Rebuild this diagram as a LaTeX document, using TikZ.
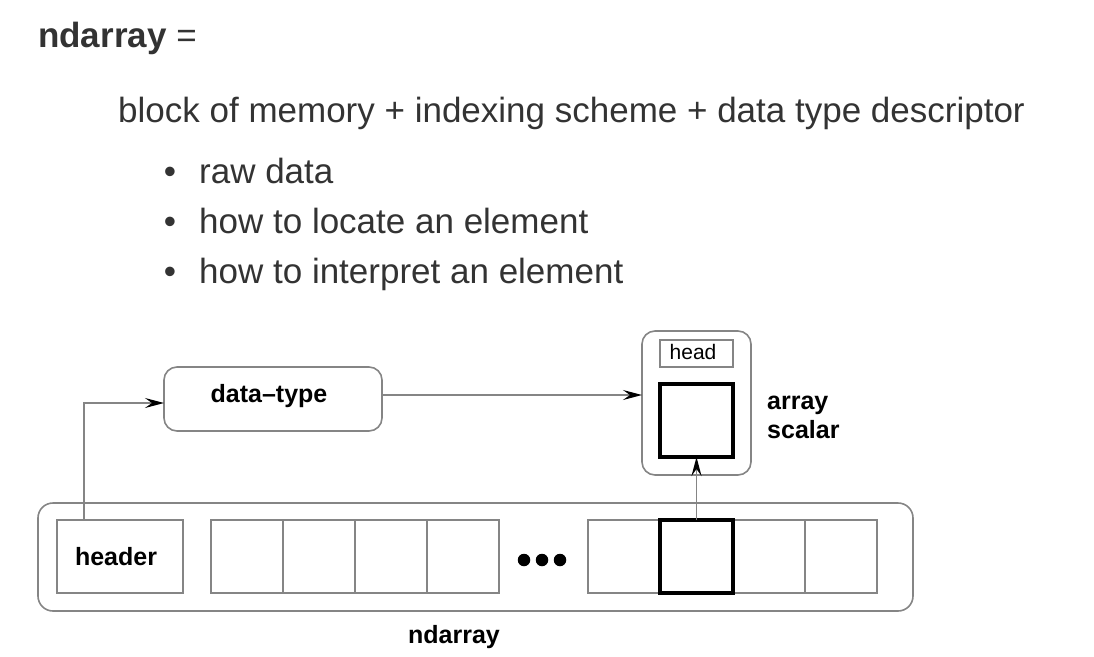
\documentclass[tikz,border=0pt]{standalone}
\usepackage{fontspec}
\setmainfont{Liberation Sans}
\usetikzlibrary{arrows.meta}
\definecolor{txt}{HTML}{333333}
\definecolor{ln}{HTML}{858585}
\begin{document}
\begin{tikzpicture}[x=1pt,y=-1pt,
  box/.style={draw=ln, line width=1.6pt, inner sep=0pt, outer sep=0pt},
  rbox/.style={box, rounded corners=13pt},
  cell/.style={box, minimum width=72pt, minimum height=73pt},
  thickbox/.style={draw=black, line width=4.5pt, inner sep=0pt, outer sep=0pt, minimum width=73pt, minimum height=73pt},
  lbl/.style={inner sep=0pt, font=\bfseries\fontsize{25}{29}\selectfont},
  toptext/.style={inner sep=0pt, text=txt, font=\fontsize{35}{42}\selectfont},
  dot/.style={circle, fill=black, minimum size=12.5pt, inner sep=0pt},
  conn/.style={draw=ln, line width=1.6pt, -{Stealth[length=19pt,width=10pt,inset=7pt,black]}}]
\useasboundingbox (0,0) rectangle (1094,656);
% top text
\node[toptext, anchor=base west] (title) at (38,47) {\textbf{ndarray} =};
\node[toptext, anchor=base west] (desc) at (118,122) {block of memory + indexing scheme + data type descriptor};
\node[toptext, anchor=base] (b1) at (170,183) {•};
\node[toptext, anchor=base west] (t1) at (199,183) {raw data};
\node[toptext, anchor=base] (b2) at (170,233) {•};
\node[toptext, anchor=base west] (t2) at (199,233) {how to locate an element};
\node[toptext, anchor=base] (b3) at (170,283) {•};
\node[toptext, anchor=base west] (t3) at (199,283) {how to interpret an element};
% ndarray block
\node[rbox, rounded corners=15pt, minimum width=875pt, minimum height=108pt] (outer) at (475.5,557) {};
\node[cell, minimum width=126pt] (header) at (120,556.5) {};
\node[lbl] (headerlbl) at (116,557) {header};
\node[cell] (c1) at (247,556.5) {};
\node[cell] (c2) at (319,556.5) {};
\node[cell] (c3) at (391,556.5) {};
\node[cell] (c4) at (463,556.5) {};
\node[dot] (d1) at (524,560) {};
\node[dot] (d2) at (542,560) {};
\node[dot] (d3) at (560,560) {};
\node[cell] (c5) at (624,556.5) {};
\node[cell] (c7) at (769,556.5) {};
\node[cell] (c8) at (841,556.5) {};
\node[thickbox] (c6) at (696.5,556.5) {};
\node[lbl] (nd) at (454,637) {ndarray};
% data-type
\node[rbox, minimum width=218pt, minimum height=64pt] (dtype) at (273,399) {};
\node[lbl] (dtypelbl) at (269,396) {data–type};
% array scalar
\node[rbox, minimum width=109pt, minimum height=144pt] (scalar) at (696.5,403) {};
\node[box, minimum width=73pt, minimum height=27pt] (head) at (696.5,353.5) {};
\node[inner sep=0pt, font=\fontsize{21}{24}\selectfont] (headlbl) at (693,352) {head};
\node[thickbox] (elem) at (696.5,420.5) {};
\node[lbl, anchor=west, align=left] (as) at (767,417) {array\\scalar};
% connectors
\draw[conn] ([xshift=-36pt]header.north) |- ([yshift=-4pt]dtype.west);
\draw[conn] ([yshift=4pt]dtype.east) -- ([yshift=4pt]dtype.east -| scalar.west);
\draw[conn] (c6.north) -- (elem.south);
\end{tikzpicture}
\end{document}
